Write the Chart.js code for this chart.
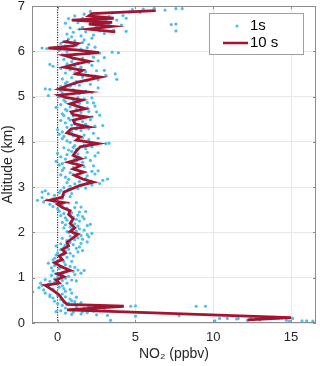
<!DOCTYPE html>
<html>
<head>
<meta charset="utf-8">
<script src="https://cdn.jsdelivr.net/npm/chart.js@4.4.0/dist/chart.umd.min.js"></script>
<style>
  html, body { margin: 0; padding: 0; background: #fff; }
</style>
</head>
<body>
<canvas id="no2Chart" width="320" height="366"></canvas>
<script>
/* globals Chart:false */

// ticks
const xTicks = [0, 5, 10, 15];
const yTicks = [0, 1, 2, 3, 4, 5, 6, 7];

// 10 s average profile (null = gap in the record)
const tenSecAlt = [0.07, 0.12, 0.29, 0.37, 0.41, 0.50, 0.62, 0.72, 0.83, 0.88,
    0.95, 1.02, 1.08, 1.16, 1.25, 1.33, 1.40, 1.48, 1.55, 1.62,
    1.70, 1.78, 1.86, 1.96, 2.02, 2.10, 2.20, 2.30, 2.40, 2.48,
    2.55, 2.62, 2.66, 2.71, 2.78, 2.89, 3.04, 3.11, 3.18, 3.26,
    3.33, 3.40, 3.48, 3.55, 3.63, 3.70, 3.80, 3.89, 3.96, 4.04,
    4.11, 4.20, 4.29, 4.33, 4.40, 4.48, 4.55, 4.60, 4.66, 4.73,
    4.84, 4.92, 4.98, 5.03, 5.10, 5.17, 5.24, 5.32, 5.43, 5.50,
    5.58, 5.65, 5.72, 5.78, 5.85, 5.91, 5.97, 6.03, 6.07, 6.12,
    6.17, 6.21, 6.24, null, 6.43, 6.49, 6.55, 6.60, 6.64, 6.69,
    6.73, 6.78, 6.83, 6.90];
const tenSecNO2 = [12.2, 15.0, 0.6, 4.25, 0.6, 0.35, 0.1, -0.3, -0.8, 0.1,
    -0.1, 0.4, 0.0, 0.8, 0.2, -0.2, 0.3, 0.1, 0.5, 0.3,
    0.7, 0.6, 0.9, 1.3, 0.8, 1.1, 0.8, 1.0, 0.7, 0.8,
    0.3, 0.0, 0.4, -0.5, 0.3, 0.4, 1.45, 2.3, 1.6, 1.1,
    1.67, 1.0, 1.5, 0.7, 1.5, 1.0, 1.2, 1.45, 2.6, 1.2,
    1.45, 0.6, 0.87, 2.0, 1.1, 1.0, 1.88, 1.0, 0.87, 1.78,
    0.8, 1.56, 0.5, 0.1, 1.9, 0.1, 0.6, 1.3, 2.75, 1.2,
    1.6, 0.43, 1.2, 2.0, 1.0, 0.43, 2.66, 1.2, -0.6, 1.0,
    1.3, 0.5, 0.7, null, 3.7, 2.0, 3.5, 2.0, 3.5, 0.9,
    3.6, 2.0, 2.2, 6.3];

// 1 s samples, [NO2 ppbv, altitude km]
const oneSecLow = [
    [12.2, 0.06], [10.1, 0.05], [14.7, 0.06], [14.9, 0.04], [15.7, 0.05], [16.0, 0.05], [16.4, 0.04], [3.4, 0.06], [13.0, 0.07], [11.5, 0.09],
    [10.4, 0.10], [10.9, 0.10], [11.6, 0.10], [12.4, 0.09], [14.2, 0.11], [15.1, 0.10], [7.8, 0.16], [1.5, 0.20], [2.5, 0.18], [3.2, 0.17], [0.9, 0.19], [5.0, 0.15],
    [0.5, 0.22], [1.0, 0.24], [1.6, 0.25], [2.3, 0.26], [0.2, 0.27], [3.0, 0.28], [0.8, 0.29], [1.9, 0.23], [-0.1, 0.25],
    [4.7, 0.37], [5.0, 0.38], [8.9, 0.37], [9.5, 0.37], [0.5, 0.33], [1.2, 0.35], [2.0, 0.36], [3.1, 0.38], [0.3, 0.39], [1.7, 0.32], [2.6, 0.34],
    [0.0, 0.43], [0.7, 0.44], [1.1, 0.47], [0.4, 0.46], [-0.2, 0.48], [1.5, 0.45], [0.9, 0.49],
    [0.2, 0.52], [0.8, 0.53], [-0.3, 0.55], [1.2, 0.57], [0.5, 0.58], [0.0, 0.60], [-0.5, 0.58],
    [-1.6, 0.69], [-0.5, 0.62], [0.3, 0.64], [0.9, 0.66], [-0.1, 0.68], [0.5, 0.70], [-0.8, 0.66],
    [-0.9, 0.73], [-0.3, 0.75], [0.4, 0.76], [-1.2, 0.78], [0.1, 0.79], [0.8, 0.74], [-0.6, 0.80],
    [-1.0, 0.83], [-0.6, 0.85], [0.0, 0.86], [0.6, 0.88], [-0.2, 0.90], [-1.1, 0.88], [0.3, 0.82],
    [-0.5, 0.92], [0.3, 0.94], [0.9, 0.95], [-0.2, 0.97], [0.5, 0.99], [-0.8, 0.96], [1.2, 0.93]
];
const oneSecMid = [
    [0.0, 1.02], [0.7, 1.03], [-0.4, 1.05], [1.1, 1.07], [0.3, 1.08], [1.5, 1.10], [-0.1, 1.09],
    [0.4, 1.12], [1.0, 1.14], [-0.3, 1.15], [1.3, 1.17], [0.6, 1.18], [0.1, 1.20], [1.7, 1.16],
    [-0.4, 1.22], [0.2, 1.24], [0.8, 1.25], [-0.2, 1.27], [0.5, 1.29], [1.1, 1.23],
    [-0.6, 1.32], [-0.1, 1.33], [0.4, 1.35], [0.0, 1.37], [-0.3, 1.39], [0.9, 1.36],
    [0.2, 1.41], [-0.2, 1.43], [0.6, 1.45], [0.1, 1.47], [1.0, 1.48], [-0.1, 1.50],
    [0.4, 1.52], [0.8, 1.54], [0.0, 1.55], [1.3, 1.57], [0.5, 1.58], [1.6, 1.60],
    [0.2, 1.62], [0.7, 1.63], [1.2, 1.65], [0.4, 1.67], [1.4, 1.68], [-0.1, 1.70],
    [0.5, 1.72], [1.0, 1.73], [0.2, 1.75], [1.5, 1.76], [0.8, 1.78], [1.9, 1.79],
    [0.6, 1.82], [1.1, 1.84], [1.6, 1.85], [0.3, 1.87], [1.3, 1.88], [2.0, 1.90],
    [0.8, 1.92], [1.5, 1.93], [1.9, 1.95], [1.1, 1.97], [2.2, 1.98], [0.7, 2.00],
    [0.6, 2.02], [1.2, 2.03], [1.7, 2.05], [0.9, 2.07], [1.4, 2.08], [0.4, 2.10],
    [0.8, 2.12], [1.3, 2.14], [1.9, 2.15], [0.5, 2.17], [1.1, 2.19], [2.1, 2.18],
    [0.3, 2.22], [0.9, 2.23], [1.4, 2.25], [0.6, 2.27], [1.2, 2.29], [1.7, 2.30],
    [0.5, 2.32], [1.0, 2.34], [1.6, 2.35], [0.2, 2.37], [0.8, 2.39], [1.3, 2.38],
    [0.4, 2.42], [0.9, 2.43], [1.4, 2.45], [0.1, 2.47], [0.7, 2.49], [1.8, 2.46],
    [0.0, 2.52], [0.6, 2.53], [1.1, 2.55], [-0.3, 2.57], [0.3, 2.59], [1.5, 2.56],
    [-0.5, 2.62], [0.1, 2.63], [0.7, 2.65], [-0.9, 2.67], [-0.2, 2.69], [1.2, 2.66],
    [-1.3, 2.71], [-0.7, 2.72], [-0.3, 2.74], [0.3, 2.75], [-1.0, 2.77], [0.8, 2.79],
    [-0.2, 2.82], [0.4, 2.83], [-0.6, 2.85], [0.9, 2.86], [0.1, 2.88], [-1.0, 2.89],
    [-0.8, 2.92], [0.2, 2.93], [0.7, 2.95], [1.3, 2.97], [0.4, 2.99], [1.8, 2.98]
];
const oneSecHigh = [
    [0.8, 3.02], [1.5, 3.03], [2.2, 3.05], [1.1, 3.07], [2.7, 3.08], [0.6, 3.10], [1.9, 3.09],
    [1.4, 3.12], [2.1, 3.13], [2.9, 3.15], [0.7, 3.17], [1.8, 3.19], [3.2, 3.18],
    [0.5, 3.22], [1.2, 3.23], [1.9, 3.25], [0.2, 3.27], [2.4, 3.29], [1.0, 3.28],
    [0.8, 3.32], [1.5, 3.33], [2.2, 3.35], [0.3, 3.37], [1.1, 3.39], [2.6, 3.36],
    [0.4, 3.42], [1.0, 3.43], [1.7, 3.45], [2.3, 3.47], [0.1, 3.49], [1.3, 3.48],
    [0.3, 3.52], [0.9, 3.53], [1.6, 3.55], [-0.1, 3.57], [2.1, 3.59], [1.2, 3.58],
    [0.5, 3.62], [1.1, 3.63], [1.8, 3.65], [0.2, 3.67], [2.4, 3.69], [1.4, 3.66],
    [0.6, 3.72], [1.3, 3.73], [0.0, 3.75], [1.9, 3.77], [0.9, 3.79], [2.6, 3.76],
    [0.7, 3.82], [1.2, 3.83], [1.8, 3.85], [0.4, 3.87], [2.2, 3.89], [1.0, 3.88],
    [1.1, 3.92], [1.7, 3.93], [2.5, 3.95], [3.1, 3.96], [3.3, 3.97], [0.8, 3.99], [2.0, 3.98],
    [0.6, 4.02], [1.3, 4.03], [2.0, 4.05], [0.3, 4.07], [1.6, 4.09], [2.6, 4.08],
    [0.4, 4.12], [1.0, 4.13], [1.7, 4.15], [0.1, 4.17], [2.3, 4.19], [0.8, 4.18],
    [0.3, 4.22], [0.9, 4.23], [1.5, 4.25], [0.0, 4.27], [2.0, 4.29], [1.2, 4.28],
    [0.6, 4.32], [1.3, 4.33], [2.4, 4.35], [0.9, 4.37], [1.8, 4.39], [2.9, 4.36],
    [0.5, 4.42], [1.1, 4.43], [1.6, 4.45], [0.2, 4.47], [2.1, 4.49], [0.8, 4.48],
    [0.7, 4.52], [1.4, 4.53], [2.2, 4.55], [1.0, 4.57], [2.7, 4.59], [0.4, 4.58],
    [0.3, 4.62], [0.9, 4.63], [1.5, 4.65], [2.0, 4.67], [0.6, 4.69], [2.5, 4.66],
    [0.5, 4.72], [1.2, 4.73], [1.9, 4.75], [0.8, 4.77], [2.4, 4.79], [-0.1, 4.76],
    [0.2, 4.82], [0.8, 4.83], [1.4, 4.85], [1.9, 4.87], [0.5, 4.89], [2.3, 4.86],
    [0.4, 4.92], [1.0, 4.93], [1.7, 4.95], [2.2, 4.97], [0.1, 4.99], [1.3, 4.98]
];
const oneSecTop = [
    [-0.6, 5.02], [0.0, 5.03], [0.6, 5.05], [1.4, 5.07], [2.2, 5.09], [0.3, 5.08],
    [-0.8, 5.17], [-0.5, 5.16], [0.2, 5.13], [1.0, 5.15], [1.8, 5.12], [2.6, 5.19], [0.5, 5.20],
    [0.2, 5.22], [0.8, 5.23], [1.4, 5.25], [2.1, 5.27], [0.5, 5.29], [1.1, 5.28],
    [0.6, 5.32], [1.2, 5.33], [1.9, 5.35], [2.6, 5.37], [0.3, 5.39], [3.8, 5.38],
    [0.9, 5.42], [1.6, 5.43], [2.4, 5.45], [3.1, 5.47], [1.3, 5.49], [3.7, 5.50],
    [0.5, 5.52], [1.1, 5.53], [1.8, 5.55], [2.5, 5.57], [0.8, 5.59], [3.0, 5.58],
    [0.2, 5.62], [0.8, 5.63], [1.5, 5.65], [-0.3, 5.67], [2.2, 5.69], [1.1, 5.68],
    [-0.5, 5.71], [0.6, 5.72], [1.3, 5.73], [2.0, 5.75], [0.9, 5.77], [2.6, 5.79],
    [0.4, 5.82], [1.0, 5.83], [1.6, 5.85], [2.3, 5.87], [0.7, 5.89], [3.0, 5.86],
    [0.3, 5.92], [1.1, 5.93], [2.0, 5.95], [3.5, 5.98], [3.9, 5.97], [0.6, 5.99], [2.7, 5.96],
    [-1.0, 6.07], [-0.7, 6.06], [0.1, 6.02], [0.8, 6.03], [1.5, 6.05], [2.4, 6.09], [1.9, 6.08],
    [0.5, 6.12], [1.2, 6.13], [2.0, 6.15], [0.2, 6.17], [1.6, 6.19], [0.9, 6.18],
    [0.4, 6.22], [1.1, 6.23], [1.7, 6.25], [0.7, 6.27], [2.2, 6.29],
    [0.9, 6.32], [1.5, 6.34], [2.3, 6.36], [0.6, 6.38], [3.0, 6.39],
    [1.0, 6.42], [1.8, 6.43], [2.7, 6.45], [3.6, 6.47], [4.4, 6.44], [7.6, 6.45], [1.4, 6.49],
    [0.8, 6.52], [1.6, 6.53], [2.5, 6.55], [3.3, 6.57], [4.1, 6.58], [7.3, 6.59], [7.6, 6.60],
    [0.5, 6.62], [1.3, 6.63], [2.2, 6.65], [3.1, 6.67], [3.8, 6.69], [1.8, 6.68],
    [0.7, 6.72], [1.6, 6.73], [2.4, 6.75], [3.3, 6.77], [4.2, 6.79], [4.4, 6.73], [1.1, 6.78],
    [1.7, 6.82], [2.6, 6.83], [3.5, 6.85], [4.6, 6.87], [5.3, 6.86], [2.1, 6.88],
    [4.8, 6.92], [5.5, 6.93], [6.2, 6.95], [6.9, 6.91], [7.6, 6.94], [8.0, 6.94]
];

const BLUE = "#4DBEEE";
const RED = "#A2142F";
const FONT = "Helvetica, Arial, 'Liberation Sans', sans-serif";

const oneSec = oneSecLow.concat(oneSecMid, oneSecHigh, oneSecTop)
    .map(([x, y]) => ({ x, y }));
const tenSec = tenSecAlt.map((y, i) => ({ x: tenSecNO2[i], y }));

// box, inward ticks and legend, like the original axes
const framePlugin = {
    id: "frame",
    afterDatasetsDraw(chart) {
        const { ctx, chartArea: a, scales } = chart;
        ctx.save();
        ctx.strokeStyle = "#8c8c8c";
        ctx.lineWidth = 1;
        ctx.strokeRect(a.left + 0.5, a.top + 0.5, a.right - a.left - 1, a.bottom - a.top - 1);

        ctx.beginPath();
        xTicks.forEach((v) => {
            const px = Math.round(scales.x.getPixelForValue(v)) + 0.5;
            ctx.moveTo(px, a.bottom); ctx.lineTo(px, a.bottom - 3);
            ctx.moveTo(px, a.top); ctx.lineTo(px, a.top + 3);
        });
        yTicks.forEach((v) => {
            const py = Math.round(scales.y.getPixelForValue(v)) + 0.5;
            ctx.moveTo(a.left, py); ctx.lineTo(a.left + 3, py);
            ctx.moveTo(a.right, py); ctx.lineTo(a.right - 3, py);
        });
        ctx.stroke();

        // legend
        const lx = a.right - 107, ly = a.top + 7, lw = 94, lh = 41;
        ctx.fillStyle = "#fff";
        ctx.fillRect(lx, ly, lw, lh);
        ctx.strokeStyle = "#a0a0a0";
        ctx.strokeRect(lx + 0.5, ly + 0.5, lw, lh);

        ctx.fillStyle = BLUE;
        ctx.beginPath();
        ctx.arc(lx + 28, ly + 13, 1.6, 0, Math.PI * 2);
        ctx.fill();

        ctx.strokeStyle = RED;
        ctx.lineWidth = 2.5;
        ctx.beginPath();
        ctx.moveTo(lx + 14, ly + 30);
        ctx.lineTo(lx + 39, ly + 30);
        ctx.stroke();

        ctx.fillStyle = "#000";
        ctx.font = "15px " + FONT;
        ctx.textBaseline = "middle";
        ctx.fillText("1s", lx + 41, ly + 13);
        ctx.fillText("10 s", lx + 41, ly + 30);
        ctx.restore();
    },
};

const ctx = document.getElementById("no2Chart");
// eslint-disable-next-line no-unused-vars
const myChart = new Chart(ctx, {
    type: "scatter",
    data: {
        datasets: [
            {
                label: "zero",
                data: [{ x: 0, y: 0 }, { x: 0, y: 7 }],
                showLine: true,
                borderColor: "#000",
                borderWidth: 1,
                borderDash: [1, 1.5],
                pointRadius: 0,
                order: 3,
            },
            {
                label: "1s",
                data: oneSec,
                pointRadius: 1.6,
                pointBorderWidth: 0,
                pointBackgroundColor: BLUE,
                order: 2,
            },
            {
                label: "10 s",
                data: tenSec,
                showLine: true,
                spanGaps: false,
                borderColor: RED,
                borderWidth: 2.8,
                pointRadius: 0,
                order: 1,
            },
        ],
    },
    options: {
        responsive: false,
        animation: false,
        layout: { padding: { top: 6, right: 4 } },
        plugins: {
            legend: { display: false },
            tooltip: { enabled: false },
        },
        scales: {
            x: {
                type: "linear",
                min: -1.65,
                max: 16.6,
                afterBuildTicks: (s) => { s.ticks = xTicks.map((v) => ({ value: v })); },
                afterFit: (s) => { s.height = 43; s.paddingLeft = 0; s.paddingRight = 0; },
                grid: { color: "#e8e8e8", drawTicks: false },
                border: { display: false },
                ticks: { padding: 7, color: "#262626", font: { size: 13, family: FONT } },
                title: {
                    display: true,
                    text: "NO\u2082 (ppbv)",
                    color: "#262626",
                    font: { size: 14, family: FONT },
                    padding: { top: 0, bottom: 3 },
                },
            },
            y: {
                type: "linear",
                min: 0,
                max: 7,
                afterBuildTicks: (s) => { s.ticks = yTicks.map((v) => ({ value: v })); },
                afterFit: (s) => { s.width = 32; s.paddingTop = 0; s.paddingBottom = 0; },
                grid: { color: "#e8e8e8", drawTicks: false },
                border: { display: false },
                ticks: { padding: 7, color: "#262626", font: { size: 13, family: FONT } },
                title: {
                    display: true,
                    text: "Altitude (km)",
                    color: "#262626",
                    font: { size: 14, family: FONT },
                    padding: { top: 0, bottom: 0 },
                },
            },
        },
    },
    plugins: [framePlugin],
});
</script>
</body>
</html>
